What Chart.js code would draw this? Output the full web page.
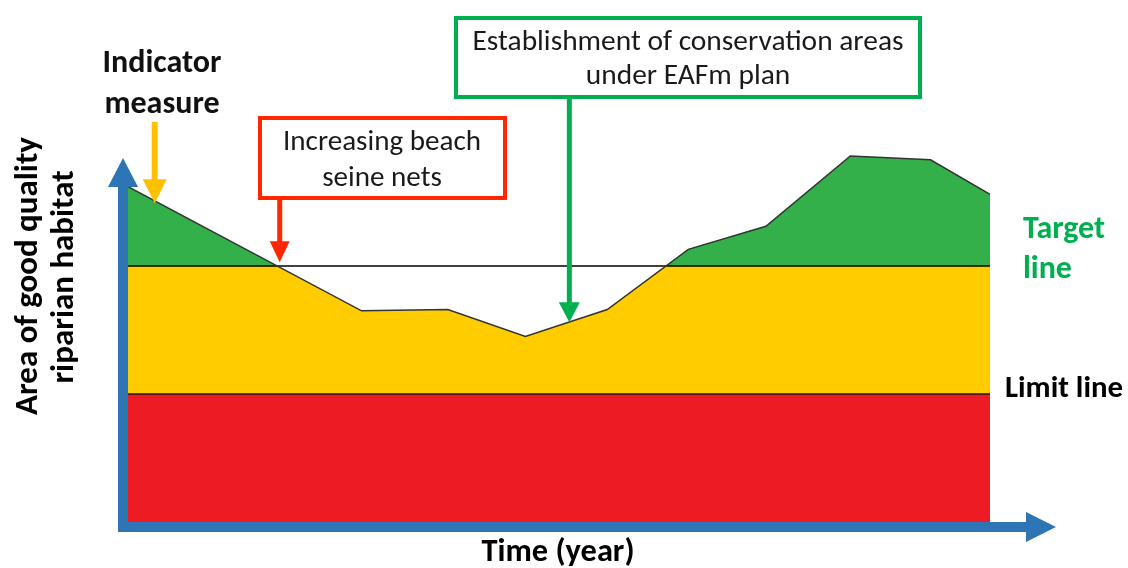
<!DOCTYPE html>
<html>
<head>
<meta charset="utf-8">
<script src="https://cdn.jsdelivr.net/npm/chart.js@4.4.1/dist/chart.umd.min.js"></script>
<style>
  html, body { margin: 0; padding: 0; background: #ffffff; }
  canvas { display: block; }
</style>
</head>
<body>
<canvas id="c" width="1128" height="568"></canvas>
<script>
// ---- data (time in arbitrary units 0..100, area in arbitrary units 0..30) ----
const timeValues   = [0, 27.1, 37.1, 46.1, 55.6, 65.0, 74.0, 83.8, 93.1, 100];
const habitatArea  = [26.2, 16.5, 16.6, 14.5, 16.6, 21.3, 23.1, 28.6, 28.3, 25.6];
const targetLevel  = 20;
const limitLevel   = 10;
const timeRange    = [0, 100];
const areaRange    = [0, 30];

// annotations: label lines, arrow x (time) and arrow tip (area)
const annotationLabels = [
  ["Indicator", "measure"],
  ["Increasing beach", "seine nets"],
  ["Establishment of conservation areas", "under EAFm plan"]
];
const annotationTime = [3.1, 17.6, 51.2];
const annotationTip  = [24.9, 20.3, 15.6];

const axisTitleX = "Time (year)";
const axisTitleY = ["Area of good quality", "riparian habitat"];
const targetLabel = ["Target", "line"];
const limitLabel = "Limit line";

const GREEN_FILL = '#34b04a';
const YELLOW = '#ffcc00';
const RED_FILL = '#ed1c24';
const BLUE = '#2e75b6';
const ORANGE = '#ffc000';
const RED_LINE = '#ff2600';
const GREEN_LINE = '#00b050';
const FONT = 'Carlito, Lato, "Open Sans", sans-serif';

const curvePts = timeValues.map((t, i) => ({x: t, y: habitatArea[i]}));
const targetPts = [{x: timeRange[0], y: targetLevel}, {x: timeRange[1], y: targetLevel}];
const limitPts = [{x: timeRange[0], y: limitLevel}, {x: timeRange[1], y: limitLevel}];

function fitSize(ctx, text, width, weight) {
  ctx.font = weight + ' 100px ' + FONT;
  const w = ctx.measureText(text).width;
  return 100 * width / w;
}
function setFont(ctx, size, weight) {
  ctx.font = weight + ' ' + size.toFixed(2) + 'px ' + FONT;
}
function downArrow(ctx, x, y0, headY, tipY, shaftW, headW, color) {
  ctx.fillStyle = color;
  ctx.fillRect(x - shaftW / 2, y0, shaftW, headY - y0 + 1);
  ctx.beginPath();
  ctx.moveTo(x - headW / 2, headY);
  ctx.lineTo(x + headW / 2, headY);
  ctx.lineTo(x, tipY);
  ctx.closePath();
  ctx.fill();
}

const decorations = {
  id: 'decorations',
  afterDraw(chart) {
    const ctx = chart.ctx;
    const xs = chart.scales.x, ys = chart.scales.y;
    const a = chart.chartArea;
    ctx.save();

    // axes (blue L with arrowheads)
    ctx.fillStyle = BLUE;
    ctx.fillRect(a.left - 10, a.top + 49, 10, a.bottom - a.top - 49 + 10);
    ctx.fillRect(a.left - 10, a.bottom, a.right - a.left + 46, 10);
    ctx.beginPath();
    ctx.moveTo(a.left - 20, a.top + 49);
    ctx.lineTo(a.left + 10, a.top + 49);
    ctx.lineTo(a.left - 5, a.top + 20);
    ctx.closePath(); ctx.fill();
    ctx.beginPath();
    ctx.moveTo(a.right + 36, a.bottom - 10);
    ctx.lineTo(a.right + 36, a.bottom + 20);
    ctx.lineTo(a.right + 66, a.bottom + 5);
    ctx.closePath(); ctx.fill();

    // annotation arrows
    const ax = annotationTime.map(t => xs.getPixelForValue(t));
    const at = annotationTip.map(v => ys.getPixelForValue(v));
    downArrow(ctx, ax[0], 122, at[0] - 24, at[0], 6, 24, ORANGE);
    downArrow(ctx, ax[1], 200, at[1] - 21, at[1], 5, 20, RED_LINE);
    downArrow(ctx, ax[2], 99, at[2] - 20, at[2], 5, 21, GREEN_LINE);

    // boxes
    ctx.lineWidth = 4;
    ctx.strokeStyle = RED_LINE;
    ctx.fillStyle = '#fff';
    ctx.fillRect(260, 118, 245, 80);
    ctx.strokeRect(260, 118, 245, 80);
    ctx.strokeStyle = GREEN_LINE;
    ctx.fillRect(456, 18, 464, 79);
    ctx.strokeRect(456, 18, 464, 79);

    ctx.textBaseline = 'alphabetic';
    ctx.fillStyle = '#111';
    ctx.textAlign = 'center';

    // Indicator measure
    let s = fitSize(ctx, annotationLabels[0][0], 119, 'bold');
    setFont(ctx, s, 'bold');
    ctx.fillText(annotationLabels[0][0], 162, 72);
    ctx.fillText(annotationLabels[0][1], 162, 113);

    // red box text
    s = fitSize(ctx, annotationLabels[1][0], 198, 'normal');
    setFont(ctx, s, 'normal');
    ctx.fillStyle = '#1a1a1a';
    ctx.fillText(annotationLabels[1][0], 382, 150);
    ctx.fillText(annotationLabels[1][1], 382, 186);

    // green box text
    s = fitSize(ctx, annotationLabels[2][0], 431, 'normal');
    setFont(ctx, s, 'normal');
    ctx.fillText(annotationLabels[2][0], 688, 50);
    ctx.fillText(annotationLabels[2][1], 688, 84);

    // target line label
    ctx.textAlign = 'left';
    ctx.fillStyle = GREEN_LINE;
    s = fitSize(ctx, targetLabel[0], 82, 'bold');
    setFont(ctx, s, 'bold');
    ctx.fillText(targetLabel[0], 1023, 238);
    ctx.fillText(targetLabel[1], 1023, 278);

    // limit line label
    ctx.fillStyle = '#000';
    s = fitSize(ctx, limitLabel, 118, 'bold');
    setFont(ctx, s, 'bold');
    ctx.fillText(limitLabel, 1005, 397);

    // x title
    ctx.textAlign = 'center';
    s = fitSize(ctx, axisTitleX, 153, 'bold');
    setFont(ctx, s, 'bold');
    ctx.fillText(axisTitleX, 558, 561);

    // y title (rotated)
    s = fitSize(ctx, axisTitleY[0], 278, 'bold');
    ctx.save();
    ctx.translate(37, 276);
    ctx.rotate(-Math.PI / 2);
    setFont(ctx, s, 'bold');
    ctx.fillText(axisTitleY[0], 0, 0);
    ctx.restore();
    ctx.save();
    ctx.translate(73, 277);
    ctx.rotate(-Math.PI / 2);
    setFont(ctx, s, 'bold');
    ctx.fillText(axisTitleY[1], 0, 0);
    ctx.restore();

    ctx.restore();
  }
};

new Chart(document.getElementById('c'), {
  type: 'line',
  data: {
    datasets: [
      {
        label: 'Indicator',
        data: curvePts,
        borderColor: '#333333',
        borderWidth: 1.5,
        pointRadius: 0,
        tension: 0,
        fill: { target: { value: targetLevel }, above: GREEN_FILL, below: '#ffffff' }
      },
      {
        label: 'Target',
        data: targetPts,
        borderColor: '#000000',
        borderWidth: 1.3,
        pointRadius: 0,
        backgroundColor: YELLOW,
        fill: '+1'
      },
      {
        label: 'Limit',
        data: limitPts,
        borderColor: '#1a1a1a',
        borderWidth: 1.3,
        pointRadius: 0,
        backgroundColor: RED_FILL,
        fill: 'origin'
      }
    ]
  },
  options: {
    responsive: false,
    animation: false,
    events: [],
    devicePixelRatio: 1,
    layout: { padding: { left: 128, right: 138, top: 138, bottom: 46 }, autoPadding: false },
    scales: {
      x: { type: 'linear', min: timeRange[0], max: timeRange[1], display: false },
      y: { type: 'linear', min: areaRange[0], max: areaRange[1], display: false }
    },
    plugins: {
      legend: { display: false },
      tooltip: { enabled: false },
      filler: { drawTime: 'beforeDatasetsDraw', propagate: false }
    }
  },
  plugins: [decorations]
});
</script>
</body>
</html>
